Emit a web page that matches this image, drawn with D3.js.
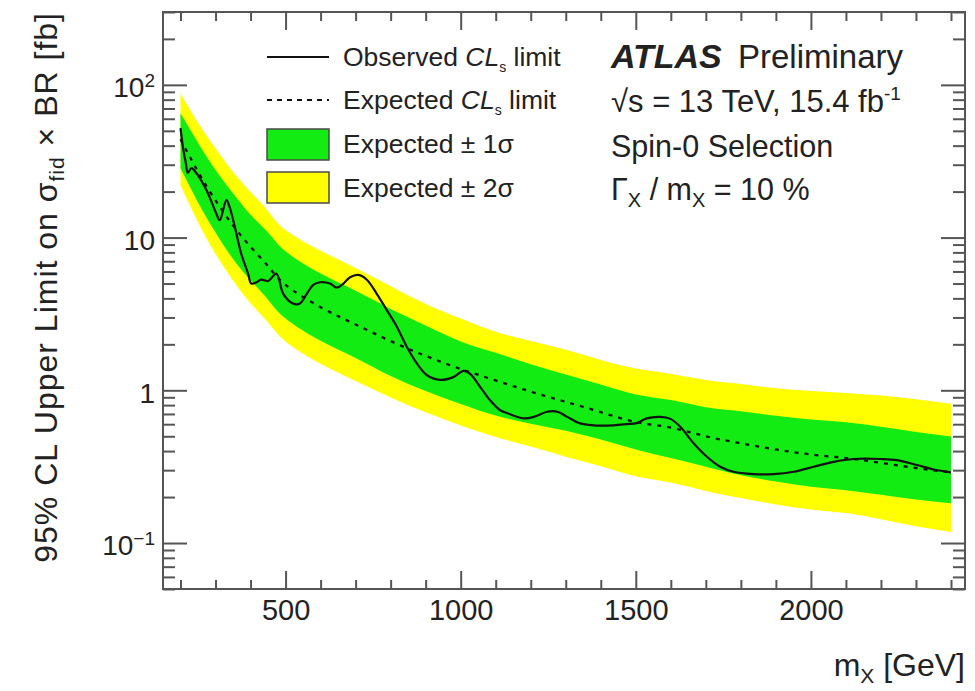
<!DOCTYPE html>
<html>
<head>
<meta charset="utf-8">
<script src="https://cdn.jsdelivr.net/npm/d3@7"></script>
<style>
  body { margin: 0; background: #fff; }
  svg { display: block; }
  text { font-family: "Liberation Sans", Arial, Helvetica, sans-serif; fill: #222; }
</style>
</head>
<body>
<svg id="chart" width="975" height="691"></svg>
<script>
// Mass points (GeV) for the expected limit and its bands
const massPoints = [200, 250, 300, 350, 400, 450, 500, 600, 700, 800, 900, 1000, 1100, 1200,
  1300, 1400, 1500, 1600, 1700, 1800, 1900, 2000, 2100, 2200, 2300, 2400];
// Expected 95% CL limit on sigma_fid x BR [fb]
const expected = [44, 27, 17.5, 12, 8.7, 6.5, 4.9, 3.5, 2.7, 2.1, 1.68, 1.38, 1.16, 0.98,
  0.84, 0.72, 0.62, 0.57, 0.50, 0.45, 0.41, 0.38, 0.36, 0.335, 0.31, 0.29];
const plus2 = [87.8, 56.4, 38.3, 26.9, 19.9, 14.9, 11.2, 8.20, 6.33, 4.81, 3.68, 2.95, 2.42, 2.10,
  1.84, 1.58, 1.39, 1.28, 1.17, 1.10, 1.03, 0.99, 0.96, 0.923, 0.874, 0.817];
const plus1 = [65.1, 41.8, 27.7, 19.5, 14.1, 10.8, 8.13, 5.81, 4.48, 3.41, 2.66, 2.09, 1.76, 1.48,
  1.27, 1.09, 0.939, 0.863, 0.775, 0.730, 0.681, 0.645, 0.618, 0.577, 0.534, 0.499];
const minus1 = [28.4, 17.0, 10.8, 7.24, 5.25, 3.92, 2.95, 2.11, 1.63, 1.24, 0.990, 0.813, 0.683, 0.605,
  0.543, 0.476, 0.410, 0.360, 0.316, 0.278, 0.253, 0.234, 0.222, 0.207, 0.193, 0.182];
const minus2 = [22.0, 12.6, 7.82, 5.24, 3.71, 2.78, 2.09, 1.49, 1.15, 0.897, 0.717, 0.589, 0.495, 0.428,
  0.367, 0.318, 0.274, 0.249, 0.219, 0.197, 0.179, 0.166, 0.157, 0.143, 0.129, 0.118];

// Observed limit
const obsMass = [200, 207, 215, 221, 231, 245, 274, 302, 312, 331, 340, 355, 373, 393, 402, 417, 430,
  450, 474, 493, 521, 541, 561, 579, 599, 627, 646, 665, 684, 708, 732, 760, 789, 818, 846, 875,
  903, 941, 979, 1008, 1027, 1056, 1084, 1113, 1132, 1180, 1209, 1247, 1276, 1304, 1341, 1379,
  1436, 1474, 1503, 1531, 1570, 1599, 1627, 1665, 1703, 1741, 1779, 1836, 1893, 1951, 2008,
  2065, 2122, 2199, 2246, 2303, 2351, 2400];
const obsLimit = [52, 39, 31, 26.5, 28.5, 26.5, 20.5, 14.4, 13.0, 17.6, 15.9, 11.8, 7.9, 5.8, 5.0, 5.1, 5.3,
  5.2, 5.8, 4.3, 3.7, 3.7, 4.3, 4.9, 5.1, 5.0, 4.7, 5.0, 5.5, 5.7, 5.3, 4.3, 3.35, 2.6, 1.93, 1.50,
  1.26, 1.17, 1.22, 1.34, 1.28, 1.05, 0.86, 0.74, 0.71, 0.655, 0.67, 0.724, 0.724, 0.67, 0.607, 0.59,
  0.59, 0.60, 0.61, 0.655, 0.67, 0.65, 0.577, 0.45, 0.367, 0.316, 0.293, 0.283, 0.283, 0.293, 0.316,
  0.34, 0.355, 0.355, 0.349, 0.324, 0.303, 0.29];

// Axis ticks and labels
const xTicks = [500, 1000, 1500, 2000];
const xMinorTicks = d3.range(200, 2450, 100).filter(v => v % 500 !== 0);
const yDecades = [0.1, 1, 10, 100];
const yLabelBase = ["10", "1", "10", "10"];
const yLabelExp = ["\u22121", "", "", "2"];

const svg = d3.select("#chart");
const frameLeft = 163, frameRight = 965, frameTop = 12, frameBottom = 589;

const x = d3.scaleLinear().domain([150, 2440]).range([frameLeft, frameRight]);
const y = d3.scaleLog().domain([0.05, 300]).range([frameBottom, frameTop]);

const yMinorTicks = [];
[0.01, 0.1, 1, 10, 100].forEach(d => {
  for (let k = 2; k <= 9; k++) {
    const v = d * k;
    if (v >= 0.05 && v <= 300) yMinorTicks.push(v);
  }
});

const plot = svg.append("g");
plot.append("clipPath").attr("id", "frame-clip")
  .append("rect").attr("x", frameLeft).attr("y", frameTop)
  .attr("width", frameRight - frameLeft).attr("height", frameBottom - frameTop);

const bands = plot.append("g").attr("clip-path", "url(#frame-clip)");
const idx = d3.range(massPoints.length);

const band = (lo, hi) => d3.area()
  .x(i => x(massPoints[i]))
  .y0(i => y(lo[i]))
  .y1(i => y(hi[i]))
  .curve(d3.curveNatural);

bands.append("path").datum(idx).attr("d", band(minus2, plus2)).attr("fill", "#ffff00");
bands.append("path").datum(idx).attr("d", band(minus1, plus1)).attr("fill", "#12ec12");

bands.append("path").datum(idx)
  .attr("d", d3.line().x(i => x(massPoints[i])).y(i => y(expected[i])).curve(d3.curveNatural))
  .attr("fill", "none").attr("stroke", "#111").attr("stroke-width", 2.3)
  .attr("stroke-dasharray", "4,6");

bands.append("path").datum(d3.range(obsMass.length))
  .attr("d", d3.line().x(i => x(obsMass[i])).y(i => y(obsLimit[i])).curve(d3.curveCatmullRom))
  .attr("fill", "none").attr("stroke", "#111").attr("stroke-width", 2.2);

// Axes: ticks drawn on all four sides, pointing inwards
const axisColor = "#555";
function styleAxis(g) {
  g.select(".domain").remove();
  g.selectAll(".tick line").attr("stroke", axisColor).attr("stroke-width", 2);
}

svg.append("g").attr("transform", `translate(0,${frameBottom})`)
  .call(d3.axisBottom(x).tickValues(xMinorTicks).tickSize(-9).tickFormat(""))
  .call(styleAxis);
const xAxis = svg.append("g").attr("transform", `translate(0,${frameBottom})`)
  .call(d3.axisBottom(x).tickValues(xTicks).tickSizeInner(-18).tickSizeOuter(0)
    .tickPadding(10).tickFormat(d3.format("d")))
  .call(styleAxis);
xAxis.selectAll("text").attr("font-size", 29).attr("fill", "#222")
  .style("font-family", '"Liberation Sans", Arial, sans-serif');

svg.append("g").attr("transform", `translate(0,${frameTop})`)
  .call(d3.axisTop(x).tickValues(xMinorTicks).tickSize(-9).tickFormat(""))
  .call(styleAxis);
svg.append("g").attr("transform", `translate(0,${frameTop})`)
  .call(d3.axisTop(x).tickValues(xTicks).tickSize(-18).tickFormat(""))
  .call(styleAxis);

svg.append("g").attr("transform", `translate(${frameLeft},0)`)
  .call(d3.axisLeft(y).tickValues(yMinorTicks).tickSize(-12).tickFormat(""))
  .call(styleAxis);
const yAxis = svg.append("g").attr("transform", `translate(${frameLeft},0)`)
  .call(d3.axisLeft(y).tickValues(yDecades).tickSizeInner(-24).tickSizeOuter(0)
    .tickPadding(8).tickFormat(""))
  .call(styleAxis);
yAxis.selectAll(".tick text").each(function(d, i) {
  const t = d3.select(this)
    .attr("font-size", 28).attr("fill", "#222").attr("dy", "0.42em")
    .style("font-family", '"Liberation Sans", Arial, sans-serif');
  t.append("tspan").text(yLabelBase[i]);
  if (yLabelExp[i]) {
    t.append("tspan").attr("dy", "-0.55em").attr("font-size", 19).text(yLabelExp[i]);
  }
});

svg.append("g").attr("transform", `translate(${frameRight},0)`)
  .call(d3.axisRight(y).tickValues(yMinorTicks).tickSize(-12).tickFormat(""))
  .call(styleAxis);
svg.append("g").attr("transform", `translate(${frameRight},0)`)
  .call(d3.axisRight(y).tickValues(yDecades).tickSize(-24).tickFormat(""))
  .call(styleAxis);

svg.append("rect").attr("x", frameLeft).attr("y", frameTop)
  .attr("width", frameRight - frameLeft).attr("height", frameBottom - frameTop)
  .attr("fill", "none").attr("stroke", axisColor).attr("stroke-width", 2);

// Axis titles
const xTitle = svg.append("text").attr("x", frameRight).attr("y", 676)
  .attr("text-anchor", "end").attr("font-size", 32);
xTitle.append("tspan").text("m");
xTitle.append("tspan").attr("font-size", 21).attr("dy", 7).text("X");
xTitle.append("tspan").attr("dy", -7).text(" [GeV]");

const yTitle = svg.append("text")
  .attr("transform", `translate(57,${frameTop}) rotate(-90)`)
  .attr("text-anchor", "end").attr("font-size", 32).attr("letter-spacing", 1);
yTitle.append("tspan").text("95% CL Upper Limit on \u03c3");
yTitle.append("tspan").attr("font-size", 21).attr("dy", 7).text("fid");
yTitle.append("tspan").attr("dy", -7).text(" \u00d7 BR [fb]");

// Legend
const legendX = 267, legendW = 62, legendTextX = 343, legendFont = 26.5;
const legendRows = [57, 100, 144, 188];

svg.append("line").attr("x1", legendX).attr("x2", legendX + legendW)
  .attr("y1", legendRows[0]).attr("y2", legendRows[0])
  .attr("stroke", "#111").attr("stroke-width", 2.2);
svg.append("line").attr("x1", legendX).attr("x2", legendX + legendW)
  .attr("y1", legendRows[1]).attr("y2", legendRows[1])
  .attr("stroke", "#111").attr("stroke-width", 2.2).attr("stroke-dasharray", "5,5");
svg.append("rect").attr("x", legendX).attr("y", legendRows[2] - 15)
  .attr("width", legendW).attr("height", 31)
  .attr("fill", "#12ec12").attr("stroke", "#4a4a4a").attr("stroke-width", 1.5);
svg.append("rect").attr("x", legendX).attr("y", legendRows[3] - 16)
  .attr("width", legendW).attr("height", 31)
  .attr("fill", "#ffff00").attr("stroke", "#4a4a4a").attr("stroke-width", 1.5);

function clsLabel(row, word) {
  const t = svg.append("text").attr("x", legendTextX).attr("y", legendRows[row] + 9)
    .attr("font-size", legendFont);
  t.append("tspan").text(word + " ");
  t.append("tspan").attr("font-style", "italic").text("CL");
  t.append("tspan").attr("font-size", 14).attr("dy", 6).text("s");
  t.append("tspan").attr("dy", -6).text(" limit");
}
clsLabel(0, "Observed");
clsLabel(1, "Expected");
svg.append("text").attr("x", legendTextX).attr("y", legendRows[2] + 9)
  .attr("font-size", legendFont).text("Expected \u00b1 1\u03c3");
svg.append("text").attr("x", legendTextX).attr("y", legendRows[3] + 9)
  .attr("font-size", legendFont).text("Expected \u00b1 2\u03c3");

// Experiment label and selection info
const infoX = 611;
const atlas = svg.append("text").attr("x", infoX).attr("y", 68).attr("font-size", 34);
atlas.append("tspan").attr("font-weight", "bold").attr("font-style", "italic").text("ATLAS");
svg.append("text").attr("x", 738).attr("y", 68).attr("font-size", 33).text("Preliminary");

const energy = svg.append("text").attr("x", infoX).attr("y", 112).attr("font-size", 31);
energy.append("tspan").text("\u221as = 13 TeV, 15.4 fb");
energy.append("tspan").attr("font-size", 19).attr("dy", -12).text("-1");

svg.append("text").attr("x", infoX).attr("y", 157).attr("font-size", 30.5).text("Spin-0 Selection");

const widthLabel = svg.append("text").attr("x", infoX).attr("y", 200).attr("font-size", 30.5);
widthLabel.append("tspan").text("\u0393");
widthLabel.append("tspan").attr("font-size", 20).attr("dy", 7).text("X");
widthLabel.append("tspan").attr("dy", -7).text(" / m");
widthLabel.append("tspan").attr("font-size", 20).attr("dy", 7).text("X");
widthLabel.append("tspan").attr("dy", -7).text(" = 10 %");
</script>
</body>
</html>
